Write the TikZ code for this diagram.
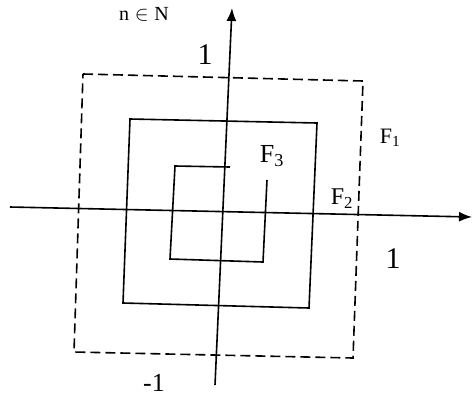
\documentclass[tikz,border=0pt]{standalone}
\usepackage{fontspec}
\setmainfont{Liberation Serif}
\usetikzlibrary{arrows.meta}
\begin{document}
\begin{tikzpicture}[x=1pt,y=-1pt,
  axis/.style={line width=1.6pt,-{Latex[length=13pt,width=10pt]}},
  solidsq/.style={line width=1.6pt,line join=miter},
  dashsq/.style={line width=1.6pt,dash pattern=on 10pt off 5pt},
  lbl/.style={inner sep=0pt,font=\fontsize{22}{24}\selectfont},
  num/.style={inner sep=0pt,font=\fontsize{30}{32}\selectfont}]
\useasboundingbox (0,0) rectangle (476,400);
% axes
\coordinate (yb) at (215,385);
\coordinate (yt) at (232,8);
\coordinate (xl) at (10,207);
\coordinate (xr) at (472,217);
\draw[axis] (yb) -- (yt);
\draw[axis] (xl) -- (xr);
% F1 dashed square
\coordinate (a1) at (83,74);
\coordinate (a2) at (363,81);
\coordinate (a3) at (353,358);
\coordinate (a4) at (74,352);
\draw[dashsq] (a1) -- (a2) -- (a3) -- (a4) -- cycle;
% F2 square
\coordinate (b1) at (130,119);
\coordinate (b2) at (317,123);
\coordinate (b3) at (309,308);
\coordinate (b4) at (123,303);
\draw[solidsq] (b1) -- (b2) -- (b3) -- (b4) -- cycle;
% F3 open square
\coordinate (c0) at (230,167);
\coordinate (c1) at (175,166);
\coordinate (c2) at (170,259);
\coordinate (c3) at (263,262);
\coordinate (c4) at (267,180);
\draw[solidsq] (c0) -- (c1) -- (c2) -- (c3) -- (c4);
% labels
\node[num] (one1) at (205,55) {1};
\node[num] (one2) at (393,259) {1};
\node[num,font=\fontsize{26}{28}\selectfont] (mone) at (154,383) {-1};
\node[lbl] (f1) at (390,138) {F\textsubscript{1}};
\node[lbl,font=\fontsize{24}{26}\selectfont] (f2) at (342,199) {F\textsubscript{2}};
\node[lbl,font=\fontsize{26}{28}\selectfont] (f3) at (272,156) {F\textsubscript{3}};
\node[inner sep=0pt,font=\fontsize{20}{22}\selectfont] (nn) at (144,14) {\(\mathrm{n} \in \mathrm{N}\)};
\end{tikzpicture}
\end{document}
